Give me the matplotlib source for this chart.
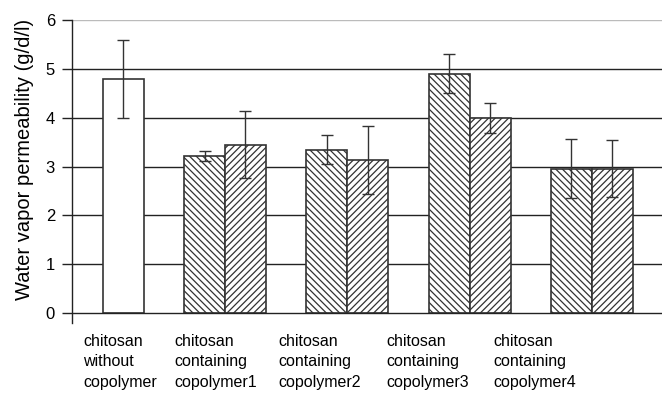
import matplotlib
matplotlib.use("Agg")
import matplotlib.pyplot as plt
import numpy as np

plt.rcParams['font.family'] = ['Liberation Sans', 'DejaVu Sans']
plt.rcParams['hatch.linewidth'] = 0.9

categories = ["chitosan\nwithout\ncopolymer",
              "chitosan\ncontaining\ncopolymer1",
              "chitosan\ncontaining\ncopolymer2",
              "chitosan\ncontaining\ncopolymer3",
              "chitosan\ncontaining\ncopolymer4"]

# plain chitosan (only first category)
plain_value = 4.8
plain_err = 0.8
# two hatched series for copolymer categories
series_a = [3.22, 3.35, 4.90, 2.96]
series_a_err = [0.10, 0.30, 0.40, 0.60]
series_b = [3.45, 3.13, 3.99, 2.96]
series_b_err = [0.68, 0.70, 0.31, 0.59]
yticks = [0, 1, 2, 3, 4, 5, 6]

fig = plt.figure(figsize=(6.62, 3.95), dpi=100)
ax = fig.add_axes([72/662, 72/395, 1 - 72/662, (323-20)/395])

w = 0.335
edge = '#333333'
ekw = dict(ecolor='#333333', elinewidth=1.0, capsize=4, capthick=1.0)

for y in [1, 2, 3, 4, 5]:
    ax.axhline(y, color='#222222', lw=1.0, zorder=0)
ax.axhline(6, color='#bbbbbb', lw=1.0, zorder=0)
ax.axhline(0, color='#222222', lw=1.0, zorder=3)

ax.bar([0 + w/2], [plain_value], width=w, color='white', edgecolor=edge,
       linewidth=1.2, yerr=[plain_err], error_kw=ekw, zorder=2)

xs = np.arange(1, 5)
ax.bar(xs - w/2, series_a, width=w, color='white', edgecolor=edge,
       hatch='\\\\\\\\\\', linewidth=1.2, yerr=series_a_err, error_kw=ekw, zorder=2)
ax.bar(xs + w/2, series_b, width=w, color='white', edgecolor=edge,
       hatch='/////', linewidth=1.2, yerr=series_b_err, error_kw=ekw, zorder=2)

ax.set_xlim(-0.251, 4.573)
ax.set_ylim(-0.2, 6)
ax.set_yticks(yticks)
ax.set_yticklabels([str(t) for t in yticks], fontsize=12)
ax.tick_params(axis='y', length=7.2, width=1.0, color='#222222', pad=5)
ax.set_xticks([])
for s in ['top', 'right', 'bottom']:
    ax.spines[s].set_visible(False)
ax.spines['left'].set_color('#222222')
ax.spines['left'].set_linewidth(1.0)

fig.text(25/662, 1 - 159/395, "Water vapor permeability (g/d/l)", rotation=90,
         ha='center', va='center', fontsize=14.5)

label_px = [83, 174, 278, 386, 493]
for lx, lab in zip(label_px, categories):
    fig.text(lx/662, 1 - 334/395, lab, ha='left', va='top', fontsize=11.5,
             linespacing=1.45)

fig.savefig("out.png", dpi=100)
